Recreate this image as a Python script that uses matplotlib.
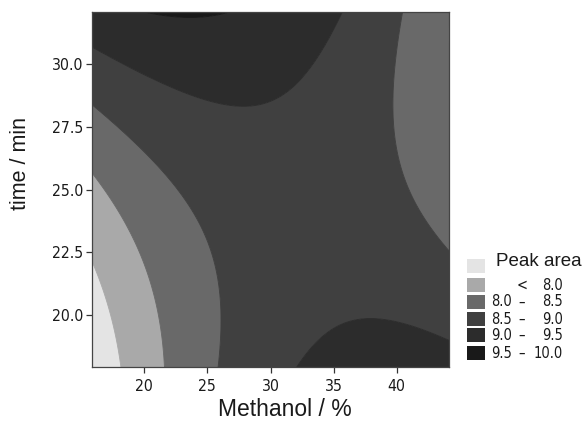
import numpy as np
import matplotlib
matplotlib.use("Agg")
import matplotlib.pyplot as plt
from matplotlib.patches import Rectangle
from matplotlib.font_manager import FontProperties

# Fitted quadratic response-surface model (coded units):
# Peak area = b0 + b1*x1 + b2*x2 + b11*x1^2 + b22*x2^2 + b12*x1*x2
# x1 = (Methanol - 30) / 10,  x2 = (time - 25) / 5
coef_names = ["b0", "b1", "b2", "b11", "b22", "b12"]
coef_values = [8.7878, 0.1283, 0.1840, -0.3564, 0.1682, -0.4246]

methanol_range = [15.86, 44.14]
time_range = [17.93, 32.07]

levels = [-100, 7.5, 8.0, 8.5, 9.0, 9.5, 100]
fill_colors = ['#e4e4e4', '#a9a9a9', '#696969', '#404040', '#2c2c2c', '#191919']
legend_left = ["", "", "8.0", "8.5", "9.0", "9.5"]
legend_mid = ["", "<", "\u2013", "\u2013", "\u2013", "\u2013"]
legend_right = ["", "8.0", "8.5", "9.0", "9.5", "10.0"]

x_ticks = [20, 25, 30, 35, 40]
y_ticks = [20.0, 22.5, 25.0, 27.5, 30.0]

tick_fp = FontProperties(family="DejaVu Sans", stretch="condensed", size=11.3)
leg_fp = FontProperties(family="DejaVu Sans", stretch="condensed", size=10.5)

W, H = 582, 422
fig = plt.figure(figsize=(W / 100, H / 100), dpi=100)
ax = fig.add_axes([92 / W, (H - 367) / H, (449 - 92) / W, (367 - 12) / H])

M = np.linspace(methanol_range[0], methanol_range[1], 400)
T = np.linspace(time_range[0], time_range[1], 400)
MM, TT = np.meshgrid(M, T)
X1 = (MM - 30) / 10
X2 = (TT - 25) / 5
b0, b1, b2, b11, b22, b12 = coef_values
Z = b0 + b1 * X1 + b2 * X2 + b11 * X1**2 + b22 * X2**2 + b12 * X1 * X2
cs = ax.contourf(MM, TT, Z, levels=levels, colors=fill_colors, antialiased=True)
cs.set_edgecolor('face')
cs.set_linewidth(0.6)

ax.set_xlim(methanol_range)
ax.set_ylim(time_range)
ax.set_xticks(x_ticks)
ax.set_xticklabels([f"{v:d}" for v in x_ticks], fontproperties=tick_fp)
ax.set_yticks(y_ticks)
ax.set_yticklabels([f"{v:.1f}" for v in y_ticks], fontproperties=tick_fp)
ax.tick_params(axis='both', direction='out', length=4.5, width=0.9, color='#333333',
               labelcolor='#1a1a1a')
ax.tick_params(axis='x', pad=4)
ax.tick_params(axis='y', pad=1.5)
for s in ax.spines.values():
    s.set_color('#444444')
    s.set_linewidth(0.9)
    s.set_zorder(5)

fig.text(285 / W, (H - 410) / H, "Methanol / %", fontsize=16.5, family="Liberation Sans",
         ha='center', va='center', color='#1a1a1a')
fig.text(21 / W, (H - 164) / H, "time / min", fontsize=15.5, family="Liberation Sans",
         rotation=90, ha='center', va='center', color='#1a1a1a')

# legend (drawn by hand)
fig.text(496 / W, (H - 262) / H, "Peak area", fontsize=13.5, family="Liberation Sans",
         ha='left', va='center', color='#1a1a1a')
row_y = [266, 285, 302, 319, 335, 353]
for i, c in enumerate(fill_colors):
    yc = row_y[i]
    fig.add_artist(Rectangle((467 / W, (H - yc - 7) / H), 18 / W, 14 / H,
                             transform=fig.transFigure, facecolor=c, edgecolor='none'))
    ty = (H - yc) / H
    if legend_left[i]:
        fig.text(512 / W, ty, legend_left[i], fontproperties=leg_fp, ha='right', va='center', color='#1a1a1a')
    if legend_mid[i]:
        fig.text(522 / W, ty, legend_mid[i], fontproperties=leg_fp, ha='center', va='center', color='#1a1a1a')
    if legend_right[i]:
        fig.text(563 / W, ty, legend_right[i], fontproperties=leg_fp, ha='right', va='center', color='#1a1a1a')

fig.savefig("out.png", dpi=100)
